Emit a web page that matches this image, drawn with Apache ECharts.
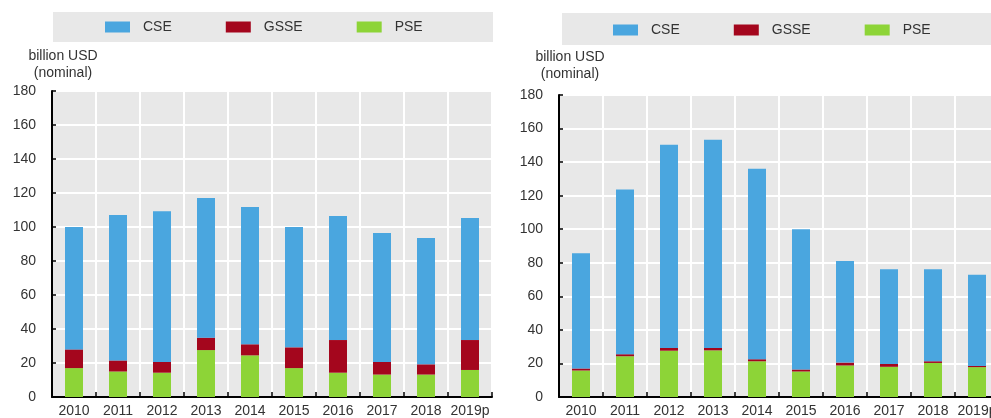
<!DOCTYPE html>
<html>
<head>
<meta charset="utf-8">
<script src="https://cdn.jsdelivr.net/npm/echarts@6/dist/echarts.min.js"></script>
<style>
  html, body { margin: 0; padding: 0; background: #fff; overflow: hidden; }
  #chart { width: 1000px; height: 418px; }
</style>
</head>
<body>
<div id="chart"></div>
<script>
// Years shown on both panels
const years = ['2010', '2011', '2012', '2013', '2014', '2015', '2016', '2017', '2018', '2019p'];

// Left panel (billion USD, nominal)
const leftPSE  = [17.0, 15.0, 14.3, 27.6, 24.5, 17.0, 14.3, 13.2, 13.2, 15.9];
const leftGSSE = [11.0, 6.5, 6.3, 7.3, 6.5, 12.2, 19.2, 7.4, 6.0, 17.6];
const leftCSE  = [72.0, 85.5, 88.6, 82.1, 80.8, 70.8, 73.0, 75.9, 74.3, 71.8];

// Right panel (billion USD, nominal)
const rightPSE  = [15.8, 24.3, 27.6, 27.8, 21.3, 15.2, 18.8, 18.0, 20.3, 17.8];
const rightGSSE = [1.2, 1.2, 1.6, 1.4, 1.2, 1.2, 1.7, 1.7, 1.0, 0.7];
const rightCSE  = [68.7, 98.2, 121.2, 124.1, 113.5, 83.6, 60.6, 56.5, 54.9, 54.3];

const yTicks = { min: 0, max: 180, interval: 20 };
const legendNames = ['CSE', 'GSSE', 'PSE'];
const colors = { CSE: '#4aa6df', GSSE: '#a4061d', PSE: '#8dd437' };

const FONT = 'Liberation Sans, Arial, sans-serif';
const TEXT = '#333333';

function makeLegend(left, top) {
  return {
    data: legendNames,
    left: left,
    top: top,
    padding: 0,
    itemWidth: 25,
    itemHeight: 11,
    itemGap: 54,
    icon: 'rect',
    selectedMode: false,
    textStyle: { color: TEXT, fontSize: 14, fontFamily: FONT, padding: [0, 0, 0, 8] }
  };
}

function makeGrid(left, top, height) {
  return {
    left: left, top: top, width: 440, height: height,
    show: true, backgroundColor: '#e8e8e8', borderWidth: 0
  };
}

function makeX(idx) {
  return {
    type: 'category', gridIndex: idx, data: years,
    axisLine: { show: true, lineStyle: { color: '#000', width: 2 } },
    axisTick: { show: true, inside: true, length: 5, lineStyle: { color: '#000', width: 1.5 } },
    axisLabel: { color: TEXT, fontSize: 14, fontFamily: FONT, margin: 7, interval: 0 },
    splitLine: { show: true, lineStyle: { color: '#ffffff', width: 2 } }
  };
}

function makeY(idx, gap) {
  return {
    type: 'value', gridIndex: idx,
    min: yTicks.min, max: yTicks.max, interval: yTicks.interval,
    name: 'billion USD\n(nominal)',
    nameLocation: 'end',
    nameGap: gap,
    nameTextStyle: { color: TEXT, fontSize: 14, fontFamily: FONT, align: 'center', lineHeight: 17, padding: [0, 0, 0, 22] },
    axisLine: { show: true, lineStyle: { color: '#000', width: 2 } },
    axisTick: { show: true, inside: true, length: 4, lineStyle: { color: '#000', width: 1.5 } },
    axisLabel: { color: TEXT, fontSize: 14, fontFamily: FONT, margin: 16 },
    splitLine: { show: true, lineStyle: { color: '#ffffff', width: 2 } }
  };
}

function stackSeries(idx, pse, gsse, cse) {
  const base = { type: 'bar', stack: 'total' + idx, xAxisIndex: idx, yAxisIndex: idx, barWidth: 18, animation: false };
  return [
    Object.assign({ name: 'PSE', data: pse, itemStyle: { color: colors.PSE } }, base),
    Object.assign({ name: 'GSSE', data: gsse, itemStyle: { color: colors.GSSE } }, base),
    Object.assign({ name: 'CSE', data: cse, itemStyle: { color: colors.CSE } }, base)
  ];
}

const chart = echarts.init(document.getElementById('chart'), null, { renderer: 'canvas' });
chart.setOption({
  animation: false,
  backgroundColor: '#ffffff',
  graphic: [
    { type: 'rect', shape: { x: 53, y: 12, width: 440, height: 30 }, style: { fill: '#e8e8e8' }, z: -1 },
    { type: 'rect', shape: { x: 562, y: 13, width: 440, height: 32 }, style: { fill: '#e8e8e8' }, z: -1 }
  ],
  legend: [makeLegend(105, 20), makeLegend(613, 23)],
  grid: [makeGrid(52, 91, 306), makeGrid(559, 95, 304)],
  xAxis: [makeX(0), makeX(1)],
  yAxis: [makeY(0, 9), makeY(1, 12)],
  series: [].concat(
    stackSeries(0, leftPSE, leftGSSE, leftCSE),
    stackSeries(1, rightPSE, rightGSSE, rightCSE)
  )
});
</script>
</body>
</html>
